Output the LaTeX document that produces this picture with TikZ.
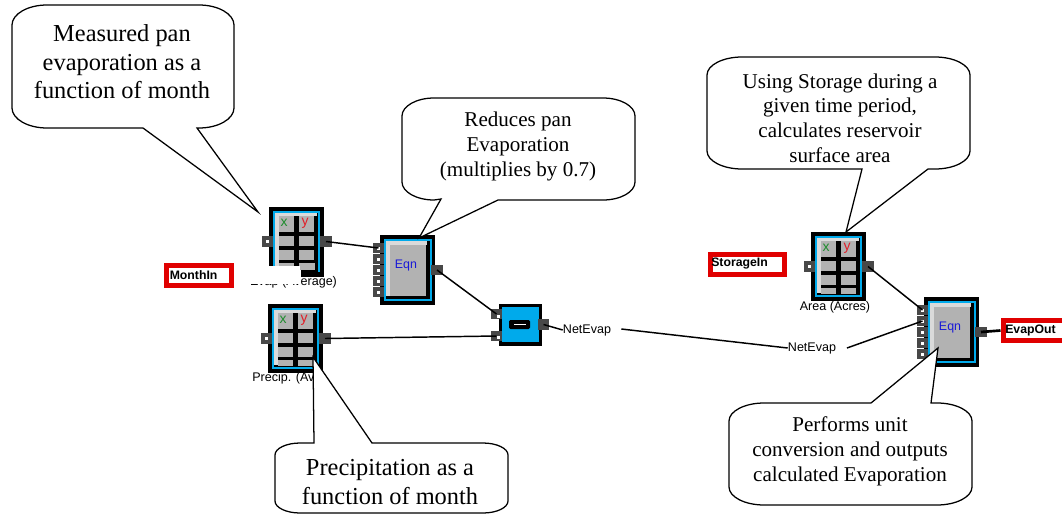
\documentclass[tikz,border=0pt]{standalone}
\usepackage{fontspec}
\setmainfont{Liberation Serif}
\setsansfont{Liberation Sans}
\definecolor{cblue}{RGB}{0,170,235}
\definecolor{cgrey}{RGB}{178,178,178}
\definecolor{clight}{RGB}{218,218,218}
\definecolor{cport}{RGB}{72,72,72}
\definecolor{cred}{RGB}{224,0,0}
\definecolor{cgreen}{RGB}{30,140,45}
\definecolor{cyred}{RGB}{225,30,40}
\definecolor{ceqn}{RGB}{25,25,215}
\tikzset{
  portbox/.style={rectangle,fill=cport,inner sep=0pt,minimum width=8.6pt,minimum height=8.1pt},
  blockbody/.style={rectangle,fill=black,inner sep=0pt},
  wire/.style={draw=black,line width=1.1pt},
  balloon/.style={draw=black,fill=white,line width=0.95pt},
  btext/.style={align=center,inner sep=0pt,text=black},
  sflabel/.style={font=\sffamily\fontsize{9.4}{11}\selectfont,inner sep=0pt,text=black},
  redbox/.style={rectangle,draw=cred,fill=white,line width=3.75pt,inner sep=0pt},
  redtext/.style={font=\sffamily\bfseries\fontsize{9.2}{11}\selectfont,inner sep=0pt,anchor=west,text=black}
}
% table block: #1 name, #2 x, #3 y
\newcommand{\tableblock}[3]{%
  \begin{scope}[shift={(#2,#3)}]
    \node[blockbody,minimum width=41.25pt,minimum height=52pt] (#1) at (27.5,34.7) {};
    \fill[cblue] (4,4) rectangle (51,65);
    \fill[black] (6,6) rectangle (49,63);
    \fill[clight] (6,6) rectangle (48,9);
    \fill[clight] (6,6) rectangle (10,61);
    \foreach \ya/\yb in {9/25,29/39,43/53,56/62}{
      \fill[cgrey] (10,\ya) rectangle (25,\yb);
      \fill[cgrey] (30,\ya) rectangle (45,\yb);
    }
    \node[font=\sffamily\fontsize{10.5}{11}\selectfont,text=cgreen,inner sep=0pt] (#1-x) at (15,16) {x};
    \node[font=\sffamily\fontsize{10.5}{11}\selectfont,text=cyred,inner sep=0pt] (#1-y) at (36,16) {y};
    \node[portbox] (#1-in) at (-1.5,34.5) {};
    \fill[white] (-3,33) rectangle (0,36);
    \node[portbox] (#1-out) at (57,34.5) {};
  \end{scope}}
% equation block
\newcommand{\eqnblock}[3]{%
  \begin{scope}[shift={(#2,#3)}]
    \node[blockbody,minimum width=41.25pt,minimum height=52.5pt] (#1) at (27.5,35) {};
    \fill[cblue] (4,4) rectangle (52,65.5);
    \fill[black] (6,6) rectangle (50,63.5);
    \fill[clight] (6,6) rectangle (47,10);
    \fill[clight] (6,6) rectangle (10,61);
    \fill[cgrey] (10,10) rectangle (46,61);
    \node[font=\sffamily\fontsize{9.3}{11}\selectfont,text=ceqn,inner sep=0pt] (#1-t) at (26,31) {Eqn};
    \foreach \n/\yy in {1/13,2/24,3/35,4/46,5/57}{
      \node[portbox,minimum height=7.9pt] (#1-p\n) at (-1.5,\yy) {};
      \fill[white] (-3,\yy-1.5) rectangle (0,\yy+1.5);
    }
    \node[portbox] (#1-out) at (57,35) {};
  \end{scope}}
% balloon outline: x0,y0,x1,y1,rx,ry, top tail, bottom tail
\newcommand{\balloonpath}[8]{%
  \pgfmathsetmacro{\bxa}{#1+#5}\pgfmathsetmacro{\bxb}{#3-#5}
  \pgfmathsetmacro{\bya}{#2+#6}\pgfmathsetmacro{\byb}{#4-#6}
  \pgfmathsetmacro{\bxc}{#1+0.45*#5}\pgfmathsetmacro{\bxd}{#3-0.45*#5}
  \pgfmathsetmacro{\byc}{#2+0.45*#6}\pgfmathsetmacro{\byd}{#4-0.45*#6}
  \draw[balloon,line join=miter] (\bxa,#2) #7 -- (\bxb,#2)
    .. controls (\bxd,#2) and (#3,\byc) .. (#3,\bya) -- (#3,\byb)
    .. controls (#3,\byd) and (\bxd,#4) .. (\bxb,#4) #8 -- (\bxa,#4)
    .. controls (\bxc,#4) and (#1,\byd) .. (#1,\byb) -- (#1,\bya)
    .. controls (#1,\byc) and (\bxc,#2) .. (\bxa,#2) -- cycle;}
\begin{document}
\begin{tikzpicture}[x=0.75pt,y=-0.75pt]
\useasboundingbox (0,0) rectangle (1062,514);
\clip (0,0) rectangle (1062,514);
\fill[white] (0,0) rectangle (1062,514);

% blocks
\tableblock{evap}{269}{207}
\tableblock{precip}{268}{304}
\tableblock{area}{811}{232}
\eqnblock{eqa}{380}{235}
\eqnblock{eqb}{924}{297}

% subtract block
\node[blockbody,minimum width=32.25pt,minimum height=31.5pt] (minus) at (520.5,325) {};
\fill[cblue] (502,307) rectangle (539,342);
\node[rectangle,fill=black,rounded corners=1pt,inner sep=0pt,minimum width=15.75pt,minimum height=6.75pt] (minusicon) at (519.5,324.5) {};
\fill[white] (514,323.7) rectangle (526,325.3);
\node[portbox,minimum height=7.5pt] (minus-a) at (496.5,314) {};
\fill[white] (497,315) rectangle (500,318);
\node[portbox,minimum height=7.5pt] (minus-b) at (496.5,336) {};
\fill[white] (497,336) rectangle (500,339);
\node[portbox] (minus-out) at (543.5,324.5) {};

% labels of the blocks
\node[sflabel] (evaplabel) at (293.5,282) {Evap (Average)};
\fill[white] (248,266) rectangle (301,283.5);
\fill[black] (301,266) rectangle (324,277);
\fill[cgrey] (300,263) rectangle (315,270);
\fill[cblue] (318,266) rectangle (320,272);
\node[sflabel,anchor=west] (preciplabel) at (252,378) {Precip. (Av};
\node[sflabel] (arealabel) at (835,307) {Area (Acres)};

% in/out boxes
\node[redbox,minimum width=48.75pt,minimum height=15pt] (monthbox) at (199,275.5) {};
\node[redtext] (monthin) at (169.5,275) {MonthIn};
\node[redbox,minimum width=55.5pt,minimum height=15pt] (storagebox) at (747.5,264.5) {};
\node[redtext] (storagein) at (711,263.5) {StorageIn};
\node[redbox,minimum width=46.5pt,minimum height=15pt] (evapbox) at (1034,330.5) {};
\node[redtext] (evapout) at (1005,330) {EvapOut};

% net evap labels
\node[sflabel] (ne1) at (587,330) {NetEvap};
\node[sflabel] (ne2) at (812,348) {NetEvap};

% connectors
\draw[wire] (evap-out.center) -- (eqa-p1.center);
\draw[wire] (eqa-out.center) -- (minus-a.center);
\draw[wire] (precip-out.center) -- (minus-b.center);
\draw[wire] (minus-out.center) -- (ne1.west);
\draw[wire] ([xshift=7.5pt,yshift=0.75pt]ne1.east) -- (ne2.west);
\draw[wire] ([xshift=8pt]ne2.east) -- (eqb-p2.center);
\draw[wire] (area-out.center) -- (eqb-p1.center);
\draw[black,line width=2pt] (eqb-out.center) -- (evapbox.west);

% callouts
\balloonpath{12}{5}{234}{128}{35}{20}{}{-- (197,128) -- (258,212) -- (143,128)}
\node[btext,font=\fontsize{18.3}{21.4}\selectfont] (t1) at (122,62) {Measured pan\\evaporation as a\\function of month};
\balloonpath{402}{98}{635}{200}{32}{18}{}{-- (498,200) -- (419,238) -- (441,199)}
\node[btext,font=\fontsize{15.8}{18.75}\selectfont] (t2) at (518,146) {Reduces pan\\Evaporation\\(multiplies by 0.7)};
\balloonpath{275}{443}{508}{513}{25}{12}{-- (314,443) -- (313,357) -- (372,443)}{}
\node[btext,font=\fontsize{18.3}{21.4}\selectfont] (t3) at (390,482) {Precipitation as a\\function of month};
\balloonpath{707}{57}{970}{169}{35}{18}{}{-- (928,169) -- (846,232) -- (862,169)}
\node[btext,font=\fontsize{15.8}{18.5}\selectfont] (t4) at (840,118) {Using Storage during a\\given time period,\\calculates reservoir\\surface area};
\balloonpath{729}{403}{972}{505}{35}{18}{-- (871,403) -- (938,348) -- (931,403)}{}
\node[btext,font=\fontsize{15.8}{18.75}\selectfont] (t5) at (850,451) {Performs unit\\conversion and outputs\\calculated Evaporation};
\end{tikzpicture}
\end{document}
